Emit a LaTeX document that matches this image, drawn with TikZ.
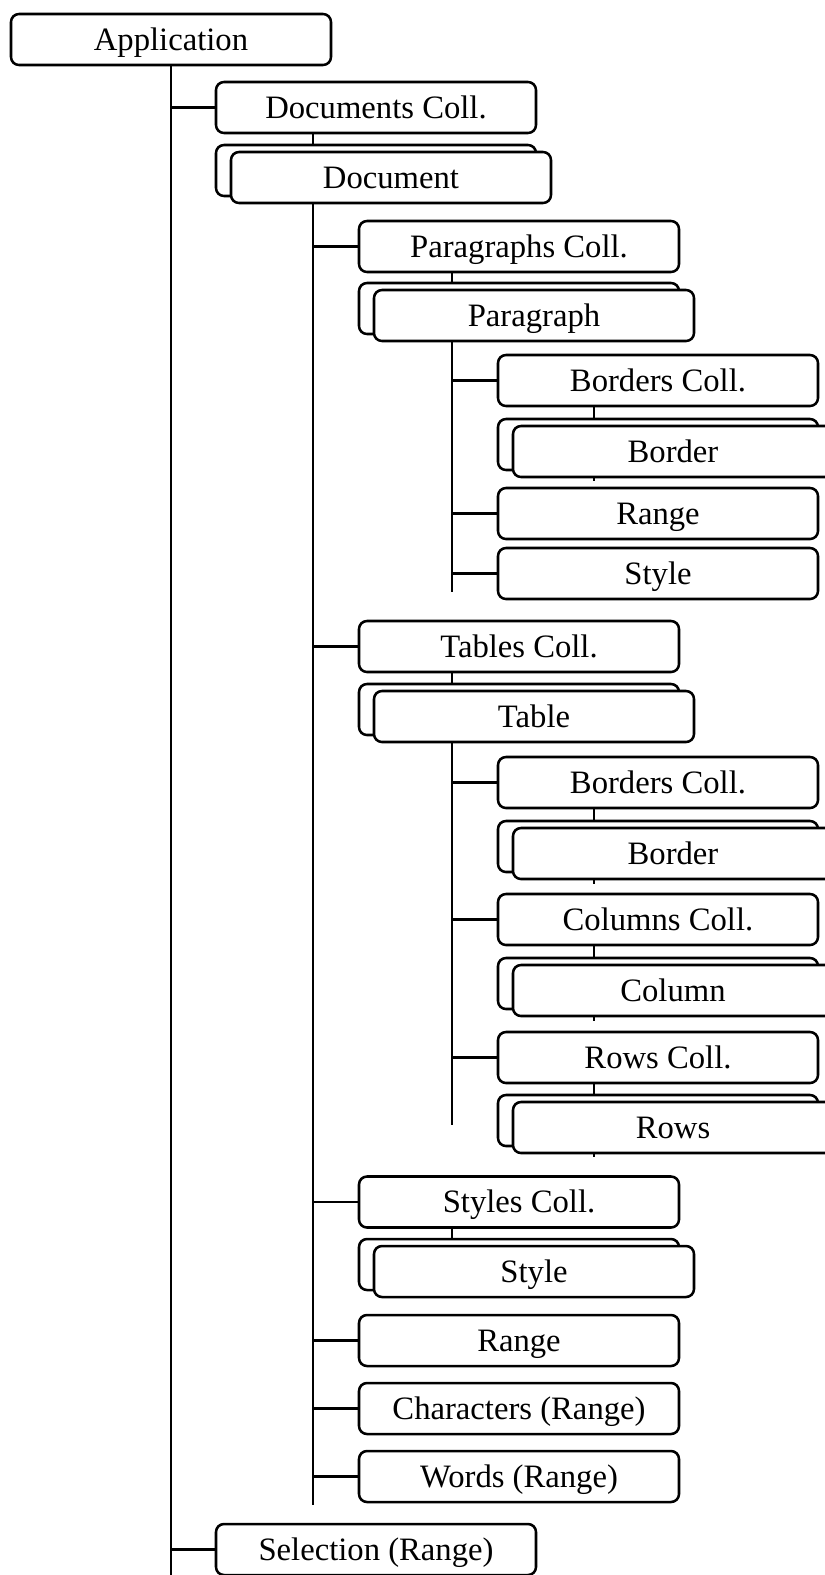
\documentclass[tikz,border=0pt]{standalone}
\usepackage{fontspec}
\setmainfont{Liberation Serif}
\usetikzlibrary{calc}
\pgfdeclarelayer{bg}
\pgfsetlayers{bg,main}

\begin{document}
\begin{tikzpicture}[x=0.75pt,y=-0.75pt,
  box/.style={draw, line width=1.9pt, rounded corners=6pt, fill=white,
    minimum width=240pt, minimum height=38.25pt, inner sep=0pt,
    text height=16.2pt, text depth=0pt, font=\fontsize{24.5}{28}\selectfont},
  link/.style={line width=2pt}]
\useasboundingbox (0,0) rectangle (825,1575);
\clip (0,0) rectangle (825,1575);

% root
\node[box] (app) at (171,39.5) {Application};

% documents
\node[box] (docsColl) at (376,107.5) {Documents Coll.};
\node[box] (docB) at (376,170.5) {};
\node[box] (doc)  at (391,177.5) {Document};

% paragraphs
\node[box] (parasColl) at (519,246.5) {Paragraphs Coll.};
\node[box] (paraB) at (519,308.5) {};
\node[box] (para)  at (534,315.5) {Paragraph};

\node[box] (pBordColl) at (658,380.5) {Borders Coll.};
\node[box] (pBordB) at (658,444.5) {};
\node[box] (pBord)  at (673,451.5) {Border};
\node[box] (pRange) at (658,513.5) {Range};
\node[box] (pStyle) at (658,573.5) {Style};

% tables
\node[box] (tabsColl) at (519,646.5) {Tables Coll.};
\node[box] (tabB) at (519,709.5) {};
\node[box] (tab)  at (534,716.5) {Table};

\node[box] (tBordColl) at (658,782.5) {Borders Coll.};
\node[box] (tBordB) at (658,846.5) {};
\node[box] (tBord)  at (673,853.5) {Border};
\node[box] (colsColl) at (658,919.5) {Columns Coll.};
\node[box] (colB) at (658,983.5) {};
\node[box] (col)  at (673,990.5) {Column};
\node[box] (rowsColl) at (658,1057.5) {Rows Coll.};
\node[box] (rowB) at (658,1120.5) {};
\node[box] (row)  at (673,1127.5) {Rows};

% styles and ranges
\node[box] (stylesColl) at (519,1202) {Styles Coll.};
\node[box] (styB) at (519,1264.5) {};
\node[box] (sty)  at (534,1271.5) {Style};
\node[box] (dRange) at (519,1340.5) {Range};
\node[box] (chars)  at (519,1408.5) {Characters (Range)};
\node[box] (words)  at (519,1476.5) {Words (Range)};

% selection
\node[box] (sel) at (376,1549.5) {Selection (Range)};

% ends of the vertical spines
\coordinate (trunkEnd) at (171,1575);
\coordinate (docX)  at (313,1505);
\coordinate (paraX) at (452,592);
\coordinate (tabX)  at (452,1125);
\coordinate (styX)  at (452,1271.5);
\coordinate (pBordX) at (594,481);
\coordinate (tBordX) at (594,884);
\coordinate (colX)   at (594,1021);
\coordinate (rowX)   at (594,1157);

\begin{pgfonlayer}{bg}
  % trunk from the application
  \draw[link] (app.south) -- (trunkEnd);
  \foreach \n in {docsColl,sel}
    \draw[link] (\n.west) -- (\n.west -| trunkEnd);

  % document spine
  \draw[link] (docsColl.south -| docX) -- (docX);
  \foreach \n in {parasColl,tabsColl,stylesColl,dRange,chars,words}
    \draw[link] (\n.west) -- (\n.west -| docX);

  % paragraph spine
  \draw[link] (parasColl.south -| paraX) -- (paraX);
  \foreach \n in {pBordColl,pRange,pStyle}
    \draw[link] (\n.west) -- (\n.west -| paraX);
  \draw[link] (pBordColl.south -| pBordX) -- (pBordX);

  % table spine
  \draw[link] (tabsColl.south -| tabX) -- (tabX);
  \foreach \n in {tBordColl,colsColl,rowsColl}
    \draw[link] (\n.west) -- (\n.west -| tabX);
  \draw[link] (tBordColl.south -| tBordX) -- (tBordX);
  \draw[link] (colsColl.south -| colX) -- (colX);
  \draw[link] (rowsColl.south -| rowX) -- (rowX);

  % styles collection to style
  \draw[link] (stylesColl.south -| styX) -- (styX);
\end{pgfonlayer}
\end{tikzpicture}
\end{document}
